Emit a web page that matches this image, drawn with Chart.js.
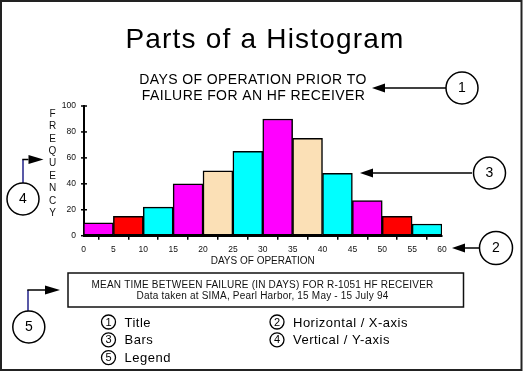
<!DOCTYPE html>
<html><head><meta charset="utf-8">
<script src="https://cdn.jsdelivr.net/npm/chart.js@4.4.1/dist/chart.umd.min.js"></script>
<style>html,body{margin:0;padding:0;background:#fff;}canvas{display:block;}</style>
</head><body>
<canvas id="c" width="525" height="373" style="width:525px;height:373px"></canvas>
<script>
const binEdges = [0,5,10,15,20,25,30,35,40,45,50,55,60];
const frequency = [10,15,22,40,50,65,90,75,48,27,15,9];
const barColors = ['#ff00ff','#ff0000','#00ffff','#ff00ff','#fbe0b6','#00ffff','#ff00ff','#fbe0b6','#00ffff','#ff00ff','#ff0000','#00ffff'];
const xTickLabels = binEdges.map(String);
const yTickValues = [0,20,40,60,80,100];
const heading = 'Parts of a Histogram';
const chartTitle = ['DAYS OF OPERATION PRIOR TO','FAILURE FOR AN HF RECEIVER'];
const xAxisTitle = 'DAYS OF OPERATION';
const yAxisTitle = 'FREQUENCY';
const legendLines = ['MEAN TIME BETWEEN FAILURE (IN DAYS) FOR R-1051 HF RECEIVER','Data taken at SIMA, Pearl Harbor, 15 May - 15 July 94'];
const partNames = ['Title','Horizontal / X-axis','Bars','Vertical / Y-axis','Legend'];

const FONT = "'Liberation Sans', Arial, Helvetica, sans-serif";
Chart.defaults.font.family = FONT;
Chart.defaults.color = '#111';

const points = frequency.map((f,i)=>({x:(binEdges[i]+binEdges[i+1])/2, y:f}));

function arrowHead(ctx, tipX, tipY, dir, len, half){
  ctx.beginPath();
  ctx.moveTo(tipX, tipY);
  ctx.lineTo(tipX - dir*len, tipY - half);
  ctx.lineTo(tipX - dir*len, tipY + half);
  ctx.closePath();
  ctx.fill();
}
function hArrow(ctx, x1, y, x2, len, half){
  const dir = x2 > x1 ? 1 : -1;
  ctx.beginPath();
  ctx.moveTo(x1, y);
  ctx.lineTo(x2 - dir*len, y);
  ctx.stroke();
  arrowHead(ctx, x2, y, dir, len, half);
}
function bigCircle(ctx, cx, cy, r, label){
  ctx.beginPath();
  ctx.arc(cx, cy, r, 0, Math.PI*2);
  ctx.fillStyle = '#fff';
  ctx.fill();
  ctx.lineWidth = 1.5;
  ctx.strokeStyle = '#000';
  ctx.stroke();
  ctx.fillStyle = '#000';
  ctx.font = '14px ' + FONT;
  ctx.textAlign = 'center';
  ctx.textBaseline = 'middle';
  ctx.fillText(label, cx, cy + 0.5);
}

const annot = {
  id: 'annot',
  afterDraw(chart){
    const ctx = chart.ctx;
    ctx.save();
    // frame
    ctx.strokeStyle = '#222';
    ctx.lineWidth = 2;
    ctx.strokeRect(1, 1, 520.5, 369);

    // heading
    ctx.fillStyle = '#000';
    ctx.textAlign = 'center';
    ctx.textBaseline = 'alphabetic';
    ctx.font = '28px ' + FONT;
    ctx.letterSpacing = '1.2px';
    ctx.fillText(heading, 265, 48);

    // chart title
    ctx.font = '14px ' + FONT;
    ctx.letterSpacing = '0.4px';
    ctx.fillText(chartTitle[0], 253, 83.5);
    ctx.fillText(chartTitle[1], 253.5, 99.5);
    ctx.letterSpacing = '0px';

    // y axis title stacked
    ctx.font = '10px ' + FONT;
    ctx.fillStyle = '#111';
    ctx.textBaseline = 'middle';
    for (let i = 0; i < yAxisTitle.length; i++) {
      ctx.fillText(yAxisTitle[i], 52.5, 114 + i*12.4);
    }

    // y tick cross marks
    const ys = chart.scales.y;
    const ax = chart.chartArea.left;
    ctx.strokeStyle = '#000';
    ctx.lineWidth = 1.5;
    yTickValues.forEach(v => {
      const py = ys.getPixelForValue(v);
      ctx.beginPath();
      ctx.moveTo(ax - 2.5, py);
      ctx.lineTo(ax + 3.5, py);
      ctx.stroke();
    });

    // arrows
    ctx.fillStyle = '#000';
    ctx.strokeStyle = '#000';
    ctx.lineWidth = 1.5;
    hArrow(ctx, 446, 88, 372, 13, 4.5);
    hArrow(ctx, 472, 173, 360, 13, 4.5);
    hArrow(ctx, 479.5, 248, 452, 13, 4.5);
    // arrow 4
    ctx.strokeStyle = '#22228a';
    ctx.beginPath(); ctx.moveTo(23, 183); ctx.lineTo(23, 159.5); ctx.stroke();
    ctx.strokeStyle = '#000';
    hArrow(ctx, 22.3, 159.5, 43.5, 15, 4.5);
    // arrow 5
    ctx.strokeStyle = '#22228a';
    ctx.beginPath(); ctx.moveTo(28, 311); ctx.lineTo(28, 290); ctx.stroke();
    ctx.strokeStyle = '#000';
    hArrow(ctx, 27.3, 290, 60, 15, 4.5);

    bigCircle(ctx, 462, 88, 16, '1');
    bigCircle(ctx, 489.5, 173, 16, '3');
    bigCircle(ctx, 496, 248, 16.5, '2');
    bigCircle(ctx, 23, 199, 16, '4');
    bigCircle(ctx, 28.8, 327, 16, '5');

    // legend box
    ctx.strokeStyle = '#111';
    ctx.lineWidth = 1.5;
    ctx.strokeRect(68, 273, 395.5, 34);
    ctx.fillStyle = '#111';
    ctx.textAlign = 'center';
    ctx.textBaseline = 'alphabetic';
    ctx.font = '10px ' + FONT;
    ctx.letterSpacing = '0.2px';
    ctx.fillText(legendLines[0], 262.5, 287.5);
    ctx.fillText(legendLines[1], 262.5, 299);
    ctx.letterSpacing = '0px';

    // parts list
    partNames.forEach((name, i) => {
      const col = i % 2, row = Math.floor(i / 2);
      const cx = col === 0 ? 108.5 : 277;
      const cy = 322 + row * 17.8;
      ctx.beginPath();
      ctx.arc(cx, cy, 7, 0, Math.PI*2);
      ctx.strokeStyle = '#000';
      ctx.lineWidth = 1.3;
      ctx.stroke();
      ctx.fillStyle = '#000';
      ctx.font = '11px ' + FONT;
      ctx.textAlign = 'center';
      ctx.textBaseline = 'middle';
      ctx.fillText(String(i+1), cx, cy + 0.5);
      ctx.font = '13px ' + FONT;
      ctx.letterSpacing = '0.5px';
      ctx.textAlign = 'left';
      ctx.textBaseline = 'alphabetic';
      ctx.fillText(name, cx + 16, cy + 4.5);
      ctx.letterSpacing = '0px';
    });
    ctx.restore();
  }
};

new Chart(document.getElementById('c').getContext('2d'), {
  type: 'bar',
  data: { datasets: [{
    data: points,
    backgroundColor: barColors,
    borderColor: '#000',
    borderWidth: 1.5,
    borderSkipped: false,
    barPercentage: 1,
    categoryPercentage: 1
  }]},
  options: {
    responsive: false,
    animation: false,
    devicePixelRatio: 1,
    layout: { padding: { left: 55, right: 83, top: 106, bottom: 103 } },
    plugins: { legend: { display: false }, tooltip: { enabled: false }, title: { display: false } },
    scales: {
      x: {
        type: 'linear', min: 0, max: 60, offset: false,
        afterBuildTicks: s => { s.ticks = binEdges.map(v => ({ value: v })); },
        afterFit: s => { s.height = 34.3; },
        ticks: { font: { size: 8.5 }, color: '#111', padding: 4.5, maxRotation: 0, autoSkip: false,
                 callback: (v, i) => xTickLabels[i] },
        grid: { drawOnChartArea: false, drawTicks: true, tickLength: 4, color: '#000', lineWidth: 1.5 },
        border: { display: true, color: '#000', width: 2 },
        title: { display: true, text: xAxisTitle, font: { size: 10 }, color: '#111', padding: { top: 0, bottom: 3 } }
      },
      y: {
        min: 0, max: 100,
        afterBuildTicks: s => { s.ticks = yTickValues.map(v => ({ value: v })); },
        afterFit: s => { s.width = 28.5; },
        ticks: { font: { size: 8.5 }, color: '#111', padding: 7.5 },
        grid: { drawOnChartArea: false, drawTicks: false },
        border: { display: true, color: '#000', width: 2 }
      }
    }
  },
  plugins: [annot]
});
</script>
</body></html>
